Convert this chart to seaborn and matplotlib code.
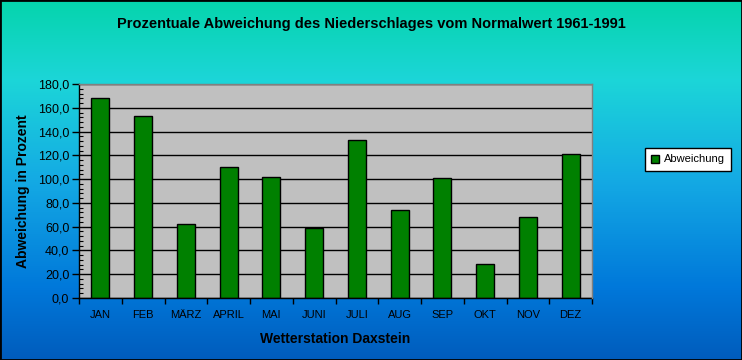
import numpy as np
import pandas as pd
import matplotlib
matplotlib.use("Agg")
import matplotlib.pyplot as plt
import seaborn as sns
from matplotlib.ticker import FuncFormatter, MultipleLocator, FixedLocator
from matplotlib.patches import Rectangle

# Data
months = ['JAN', 'FEB', 'MÄRZ', 'APRIL', 'MAI', 'JUNI',
          'JULI', 'AUG', 'SEP', 'OKT', 'NOV', 'DEZ']
abweichung = [168.0, 153.0, 62.0, 110.0, 101.5, 58.8,
              132.6, 74.0, 100.7, 28.3, 68.0, 120.8]

title = 'Prozentuale Abweichung des Niederschlages vom Normalwert 1961-1991'
xlabel = 'Wetterstation Daxstein'
ylabel = 'Abweichung in Prozent'
series_name = 'Abweichung'

sns.set_style("white")
plt.rcParams['font.family'] = ['Liberation Sans', 'DejaVu Sans']
plt.rcParams['text.color'] = 'black'
plt.rcParams['axes.labelcolor'] = 'black'
plt.rcParams['xtick.color'] = 'black'
plt.rcParams['ytick.color'] = 'black'

df = pd.DataFrame({'Monat': months, 'Wert': abweichung})

fig = plt.figure(figsize=(7.42, 3.6), dpi=100)

# gradient background (teal at the top, blue at the bottom)
stops_y = [0.0, 0.22, 0.5, 0.8, 1.0]
stops_c = np.array([[5, 212, 172], [28, 214, 216], [20, 170, 228],
                    [0, 120, 218], [0, 92, 188]]) / 255.0
yy = np.linspace(0, 1, 360)
grad = np.stack([np.interp(yy, stops_y, stops_c[:, i]) for i in range(3)], axis=-1)
bg = fig.add_axes([0, 0, 1, 1], zorder=-10)
bg.imshow(grad[:, None, :], aspect='auto', extent=[0, 1, 0, 1])
bg.axis('off')

ax = fig.add_axes([79 / 742, 1 - 298 / 360, (592 - 79) / 742, (298 - 84) / 360])
ax.set_facecolor('#C0C0C0')

sns.barplot(data=df, x='Monat', y='Wert', color='#008000', edgecolor='black',
            linewidth=1.0, width=0.42, saturation=1, ax=ax, zorder=2)

ax.set_xlim(-0.5, len(months) - 0.5)
ax.set_ylim(0, 180)

ax.yaxis.set_major_locator(MultipleLocator(20))
ax.yaxis.set_minor_locator(MultipleLocator(4))
ax.yaxis.set_major_formatter(FuncFormatter(lambda v, _: f"{v:.1f}".replace('.', ',')))
ax.tick_params(axis='y', which='major', direction='out', length=5, width=1,
               color='black', labelcolor='black', labelsize=9, pad=2, left=True)
ax.tick_params(axis='y', which='minor', direction='in', length=3, width=0.8,
               color='black', left=True)

# x: ticks between categories, labels at centres
ax.xaxis.set_major_locator(FixedLocator(np.arange(-0.5, len(months), 1.0)))
ax.xaxis.set_major_formatter(FuncFormatter(lambda v, _: ''))
ax.xaxis.set_minor_locator(FixedLocator(np.arange(len(months))))
ax.set_xticklabels(months, minor=True)
ax.tick_params(axis='x', which='major', direction='out', length=4, width=1,
               color='black', bottom=True)
ax.tick_params(axis='x', which='minor', length=0, labelsize=8, pad=9,
               labelcolor='black')

ax.grid(axis='y', which='major', color='black', linewidth=1)
ax.set_axisbelow(True)

for side in ['left', 'bottom']:
    ax.spines[side].set_color('black')
    ax.spines[side].set_linewidth(1)
for side in ['top', 'right']:
    ax.spines[side].set_color('#808080')
    ax.spines[side].set_linewidth(1)
    ax.spines[side].set_zorder(5)

ax.set_xlabel(xlabel, fontsize=10, fontweight='bold', labelpad=8, color='black')
ax.set_ylabel(ylabel, fontsize=10, fontweight='bold', labelpad=6, color='black')

fig.text(0.5, 1 - 24 / 360, title, ha='center', va='center',
         fontsize=10.5, fontweight='bold', color='black')

handle = Rectangle((0, 0), 1, 1, facecolor='#008000', edgecolor='black', linewidth=1)
leg = fig.legend([handle], [series_name], loc='center',
                 bbox_to_anchor=(688 / 742, 1 - 159.5 / 360),
                 frameon=True, fancybox=False, edgecolor='black', framealpha=1,
                 fontsize=8, handlelength=0.7, handleheight=0.7,
                 handletextpad=0.4, borderpad=0.6)
leg.get_frame().set_linewidth(1)
for t in leg.get_texts():
    t.set_color('black')

# black frame around the whole chart
fig.patches.append(Rectangle((0, 0), 1, 1, transform=fig.transFigure,
                             fill=False, edgecolor='black', linewidth=2))

fig.savefig('out.png', dpi=100)
